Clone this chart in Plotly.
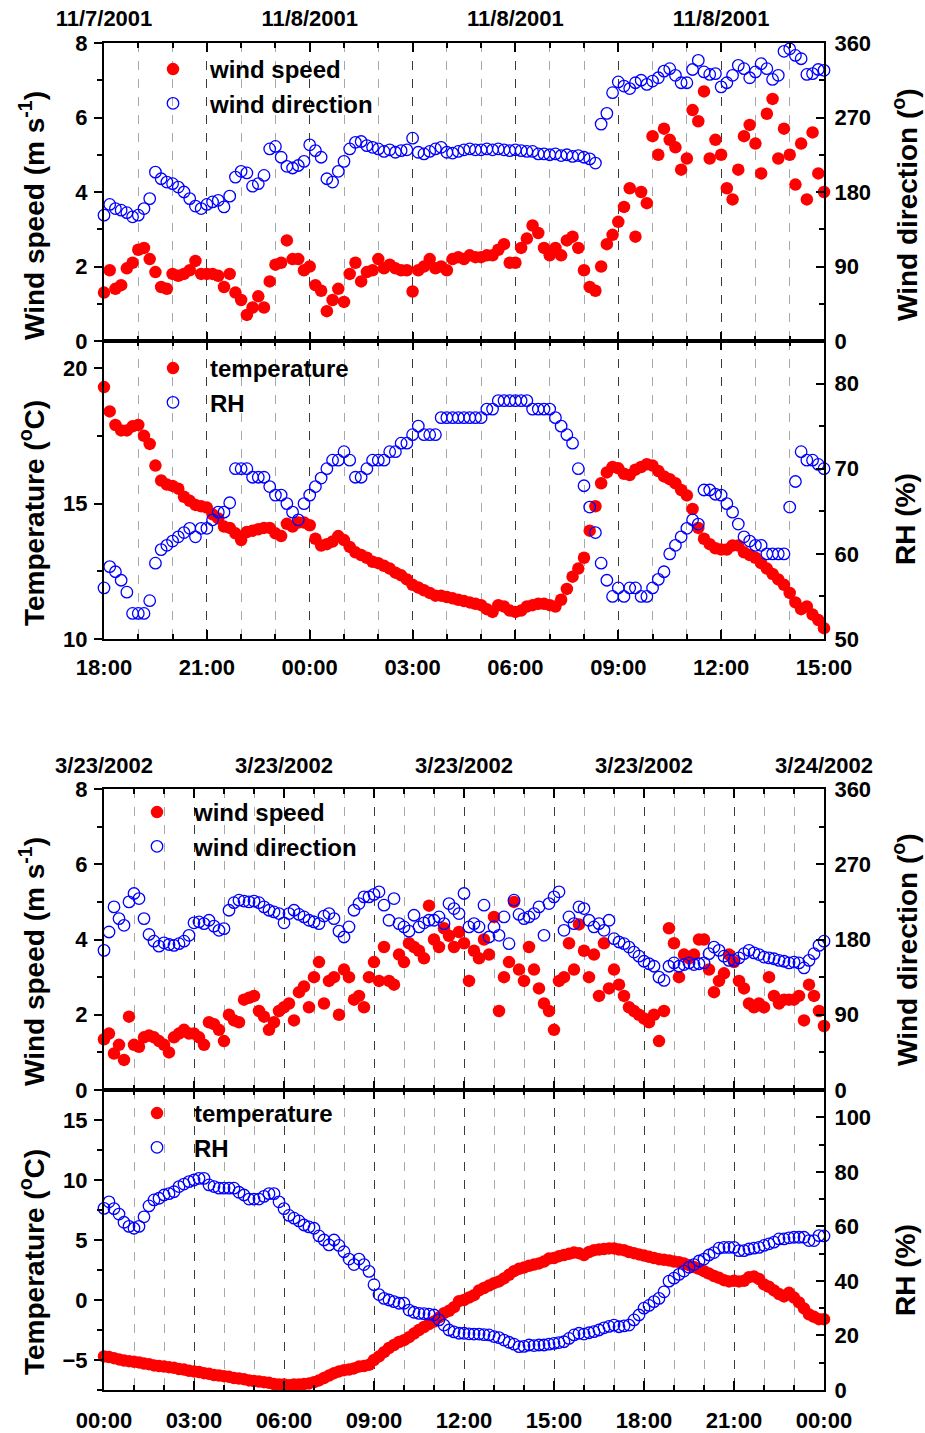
import numpy as np
import plotly.graph_objects as go

# ---------------------------------------------------------------
# 7-8 Nov 2001, 10-minute samples from 18:00 to 15:00 (one row per hour)
# ---------------------------------------------------------------
nov_wind_speed = [
    1.3, 1.9, 1.4, 1.5, 1.95, 2.1,     # 18
    2.45, 2.5, 2.2, 1.85, 1.45, 1.4,   # 19
    1.8, 1.75, 1.8, 1.9, 2.15, 1.8,    # 20
    1.8, 1.8, 1.75, 1.45, 1.8, 1.3,    # 21
    1.1, 0.7, 0.9, 1.2, 0.9, 1.6,      # 22
    2.05, 2.1, 2.7, 2.2, 2.2, 1.9,     # 23
    2.0, 1.5, 1.35, 0.8, 1.1, 1.4,     # 00
    1.05, 1.8, 2.1, 1.6, 1.85, 1.9,    # 01
    2.2, 1.95, 2.05, 1.95, 1.9, 1.9,   # 02
    1.33, 1.9, 2.0, 2.2, 1.95, 2.0,    # 03
    1.9, 2.2, 2.25, 2.2, 2.3, 2.25,    # 04
    2.25, 2.3, 2.3, 2.45, 2.6, 2.1,    # 05
    2.1, 2.5, 2.75, 3.1, 2.9, 2.5,     # 06
    2.3, 2.5, 2.3, 2.7, 2.8, 2.5,      # 07
    1.9, 1.45, 1.35, 2.0, 2.6, 2.85,   # 08
    3.2, 3.6, 4.1, 2.8, 4.0, 3.7,      # 09
    5.5, 5.0, 5.7, 5.4, 5.2, 4.6,      # 10
    4.9, 6.2, 5.9, 6.7, 4.9, 5.4,      # 11
    5.0, 4.1, 3.8, 4.6, 5.5, 5.8,      # 12
    5.3, 4.5, 6.1, 6.5, 4.9, 5.7,      # 13
    5.0, 4.2, 5.3, 3.8, 5.6, 4.5,      # 14
    4.0,                               # 15
]
nov_wind_dir = [
    152, 165, 160, 158, 155, 150,
    152, 160, 172, 204, 196, 192,
    190, 186, 180, 172, 163, 160,
    165, 168, 170, 162, 175, 198,
    205, 203, 187, 190, 200, 232,
    235, 222, 211, 209, 212, 217,
    237, 230, 222, 196, 192, 205,
    217, 232, 240, 241, 236, 234,
    232, 229, 231, 228, 230, 231,
    245, 228, 226, 229, 232, 234,
    228, 227, 229, 231, 232, 231,
    231, 232, 231, 232, 231, 230,
    231, 230, 229, 229, 226, 226,
    225, 226, 224, 225, 223, 224,
    222, 220, 215, 262, 275, 300,
    313, 308, 305, 312, 315, 310,
    314, 318, 326, 329, 321, 312,
    312, 328, 339, 325, 322, 323,
    307, 312, 321, 333, 329, 318,
    325, 335, 329, 316, 321, 350,
    353, 345, 341, 322, 323, 328,
    327,
]
nov_temperature = [
    19.3, 18.4, 17.9, 17.7, 17.7, 17.85,
    17.9, 17.5, 17.2, 16.4, 15.85, 15.7,
    15.65, 15.55, 15.25, 15.1, 14.95, 14.9,
    14.85, 14.6, 14.45, 14.15, 14.1, 13.9,
    13.65, 13.95, 14.0, 14.05, 14.1, 14.1,
    13.9, 13.8, 14.25, 14.15, 14.3, 14.3,
    14.2, 13.7, 13.45, 13.5, 13.6, 13.8,
    13.65, 13.4, 13.2, 13.1, 13.0, 12.85,
    12.8, 12.7, 12.6, 12.45, 12.35, 12.2,
    12.0, 11.9, 11.8, 11.7, 11.6, 11.6,
    11.55, 11.5, 11.45, 11.4, 11.35, 11.3,
    11.25, 11.1, 11.0, 11.25, 11.2, 11.05,
    11.0, 11.05, 11.2, 11.25, 11.3, 11.3,
    11.25, 11.2, 11.45, 11.85, 12.3, 12.6,
    13.0, 14.0, 14.9, 15.75, 16.15, 16.35,
    16.3, 16.1, 16.05, 16.25, 16.35, 16.45,
    16.4, 16.2, 16.0, 15.9, 15.75, 15.5,
    15.3, 14.8, 14.1, 13.7, 13.5, 13.35,
    13.3, 13.3, 13.45, 13.45, 13.2, 13.1,
    13.0, 12.8, 12.6, 12.4, 12.2, 12.0,
    11.7, 11.35, 11.1, 11.2, 10.9, 10.7,
    10.4,
]
nov_rh = [
    56.0, 58.5, 57.9, 56.9, 55.5, 53.0,
    53.0, 53.0, 54.5, 58.9, 60.5, 61.0,
    61.5, 62.0, 62.5, 63.0, 62.0, 63.0,
    63.0, 64.0, 64.9, 64.9, 66.0, 70.0,
    70.0, 70.0, 69.0, 69.0, 69.0, 67.9,
    66.9, 66.9, 65.9, 64.9, 64.0, 65.9,
    66.9, 67.9, 68.9, 70.0, 71.0, 71.0,
    72.0, 71.0, 69.0, 69.0, 70.0, 71.0,
    71.0, 71.0, 72.0, 72.0, 73.0, 73.0,
    74.0, 75.0, 74.0, 74.0, 74.0, 76.0,
    76.0, 76.0, 76.0, 76.0, 76.0, 76.0,
    76.0, 77.0, 77.0, 78.0, 78.0, 78.0,
    78.0, 78.0, 78.0, 77.0, 77.0, 77.0,
    77.0, 76.0, 75.0, 74.0, 73.0, 70.0,
    68.0, 65.5, 62.5, 58.9, 56.9, 55.0,
    56.0, 55.0, 56.0, 56.0, 55.0, 55.0,
    56.0, 57.0, 57.9, 60.0, 61.0, 62.0,
    63.0, 64.0, 63.5, 67.5, 67.5, 67.0,
    66.9, 65.9, 64.9, 63.5, 62.0, 61.5,
    61.0, 61.0, 60.0, 60.0, 60.0, 60.0,
    65.5, 68.5, 72.0, 71.0, 71.0, 70.5,
    70.0,
]

# ---------------------------------------------------------------
# 23 Mar 2002, 10-minute samples from 00:00 to 24:00 (one row per hour)
# ---------------------------------------------------------------
mar_wind_speed = [
    1.35, 1.5, 0.97, 1.2, 0.8, 1.95,   # 00
    1.2, 1.15, 1.4, 1.45, 1.4, 1.3,    # 01
    1.2, 1.0, 1.4, 1.5, 1.6, 1.5,      # 02
    1.5, 1.4, 1.2, 1.8, 1.75, 1.6,     # 03
    1.3, 2.0, 1.85, 1.8, 2.4, 2.45,    # 04
    2.5, 2.1, 1.95, 1.6, 1.8, 2.1,     # 05
    2.2, 2.3, 1.85, 2.6, 2.75, 2.2,    # 06
    3.0, 3.4, 2.3, 2.9, 3.0, 2.0,      # 07
    3.2, 3.0, 2.4, 2.5, 2.2, 3.0,      # 08
    3.4, 2.9, 3.8, 2.9, 2.8, 3.6,      # 09
    3.4, 3.9, 3.8, 3.7, 3.5, 4.9,      # 10
    4.0, 3.8, 4.3, 4.1, 3.8, 4.2,      # 11
    3.9, 2.9, 3.7, 3.5, 4.0, 3.6,      # 12
    4.6, 2.1, 3.0, 3.4, 5.0, 3.2,      # 13
    2.9, 3.8, 3.2, 2.7, 2.3, 2.1,      # 14
    1.6, 2.9, 3.0, 3.9, 3.2, 4.4,      # 15
    3.7, 3.0, 3.6, 2.5, 3.9, 2.7,      # 16
    3.2, 2.8, 2.5, 2.2, 2.1, 2.0,      # 17
    1.9, 1.8, 2.0, 1.3, 2.1, 4.3,      # 18
    3.9, 3.0, 3.6, 3.5, 3.6, 4.0,      # 19
    4.0, 3.2, 2.6, 2.9, 3.1, 3.6,      # 20
    3.4, 2.9, 2.7, 2.3, 2.2, 2.3,      # 21
    2.2, 3.0, 2.5, 2.3, 2.4, 2.4,      # 22
    2.4, 2.5, 1.85, 2.8, 2.5, 2.1,     # 23
    1.7,                               # 24
]
mar_wind_dir = [
    167, 189, 219, 205, 197, 225,
    235, 229, 205, 186, 178, 172,
    176, 174, 173, 175, 178, 185,
    200, 201, 199, 203, 196, 191,
    193, 215, 224, 227, 226, 225,
    226, 224, 219, 215, 213, 211,
    200, 211, 215, 210, 207, 203,
    201, 199, 208, 211, 205, 190,
    183, 195, 215, 223, 231, 231,
    234, 237, 221, 203, 229, 199,
    195, 190, 209, 195, 200, 203,
    203, 207, 199, 223, 217, 211,
    235, 195, 199, 195, 221, 183,
    195, 185, 207, 175, 227, 210,
    205, 207, 211, 219, 185, 223,
    231, 237, 191, 207, 199, 219,
    217, 203, 195, 199, 191, 203,
    181, 177, 175, 171, 165, 160,
    154, 151, 148, 135, 131, 148,
    152, 148, 150, 152, 150, 151,
    152, 163, 171, 167, 160, 155,
    155, 158, 163, 167, 164, 162,
    159, 158, 157, 155, 154, 152,
    153, 152, 146, 155, 163, 173,
    178,
]
mar_temperature = [
    -4.7, -4.75, -4.85, -4.95, -5.05, -5.1,
    -5.15, -5.2, -5.3, -5.35, -5.45, -5.5,
    -5.55, -5.6, -5.65, -5.75, -5.8, -5.9,
    -5.95, -6.0, -6.1, -6.15, -6.25, -6.3,
    -6.35, -6.4, -6.5, -6.55, -6.6, -6.7,
    -6.75, -6.8, -6.85, -6.9, -7.0, -7.05,
    -7.05, -7.1, -7.05, -7.05, -7.0, -6.95,
    -6.85, -6.7, -6.5, -6.3, -6.1, -5.95,
    -5.85, -5.8, -5.7, -5.55, -5.5, -5.4,
    -5.0, -4.7, -4.35, -4.0, -3.75, -3.5,
    -3.35, -3.1, -2.8, -2.5, -2.25, -2.0,
    -1.8, -1.45, -1.1, -0.9, -0.6, -0.1,
    0.0, 0.2, 0.4, 0.8, 1.0, 1.2,
    1.4, 1.55, 1.8, 2.1, 2.4, 2.6,
    2.7, 2.85, 2.95, 3.05, 3.2, 3.45,
    3.5, 3.65, 3.75, 3.85, 3.95, 3.9,
    3.75, 4.0, 4.15, 4.2, 4.25, 4.3,
    4.3, 4.2, 4.15, 4.0, 3.9, 3.8,
    3.7, 3.6, 3.5, 3.4, 3.35, 3.3,
    3.2, 3.15, 3.05, 2.9, 2.75, 2.6,
    2.4, 2.2, 2.0, 1.85, 1.65, 1.55,
    1.6, 1.55, 1.6, 1.9, 1.95, 1.75,
    1.3, 1.1, 0.8, 0.5, 0.3, 0.6,
    0.2, -0.2, -0.7, -1.2, -1.4, -1.6,
    -1.6,
]
mar_rh = [
    66.6, 69.0, 66.5, 64.5, 61.5, 60.0,
    59.3, 60.0, 63.5, 67.5, 69.7, 70.3,
    71.5, 72.0, 72.7, 74.6, 75.5, 76.4,
    77.0, 77.6, 77.6, 75.2, 74.6, 74.0,
    74.0, 74.0, 74.0, 72.5, 71.5, 70.0,
    70.0, 70.0, 71.0, 72.0, 72.0, 69.0,
    66.5, 64.0, 63.0, 62.0, 60.5, 59.8,
    59.3, 56.5, 55.0, 53.2, 55.0, 53.0,
    50.7, 48.0, 46.0, 48.0, 46.0, 43.5,
    38.6, 35.0, 33.6, 33.0, 32.4, 31.8,
    31.8, 29.3, 28.5, 28.1, 28.0, 27.8,
    27.5, 25.7, 23.8, 22.0, 21.3, 20.8,
    20.8, 20.6, 20.5, 20.5, 20.3, 20.2,
    19.6, 19.2, 18.3, 17.5, 16.8, 15.9,
    16.0, 16.5, 16.3, 16.5, 16.5, 16.8,
    17.1, 17.4, 17.7, 18.9, 20.2, 20.8,
    20.5, 21.0, 21.4, 22.0, 22.8, 23.3,
    23.8, 23.2, 23.5, 23.8, 25.7, 27.5,
    30.0, 31.0, 32.4, 33.6, 36.0, 39.9,
    41.0, 42.4, 43.6, 45.0, 46.0, 47.3,
    48.0, 49.5, 50.4, 52.0, 52.3, 52.3,
    52.3, 51.1, 51.1, 51.7, 52.0, 52.3,
    53.0, 53.6, 54.2, 55.4, 55.4, 55.8,
    56.0, 56.0, 56.0, 54.8, 54.8, 56.6,
    56.5,
]

# axis labels
nov_time_labels = ["18:00", "21:00", "00:00", "03:00", "06:00", "09:00", "12:00", "15:00"]
nov_date_labels = ["11/7/2001", "", "11/8/2001", "", "11/8/2001", "", "11/8/2001", ""]
mar_time_labels = ["00:00", "03:00", "06:00", "09:00", "12:00", "15:00", "18:00", "21:00", "00:00"]
mar_date_labels = ["3/23/2002", "", "3/23/2002", "", "3/23/2002", "", "3/23/2002", "", "3/24/2002"]

# sample times in hours since the start of each record (10-minute step)
nov_hours = np.arange(len(nov_wind_speed)) / 6.0
mar_hours = np.arange(len(mar_wind_speed)) / 6.0

# ---------------------------------------------------------------
# page geometry (pixels)
# ---------------------------------------------------------------
W, H = 925, 1433
ML, MR, MT, MB = 104, 101, 43, 43
PW = W - ML - MR
PH = H - MT - MB


def fy(y):
    return (H - MB - y) / PH


def fx(x):
    return (x - ML) / PW


FONT = "Liberation Sans, Arial, Helvetica, sans-serif"
RED = "#ff0000"
BLUE = "#0000ff"
TICKFONT = dict(family=FONT, size=22, color="black", weight="bold")

fig = go.Figure()


def add_pair(x, y1, y2, name1, name2, xa, ya1, ya2, legend):
    fig.add_trace(go.Scatter(
        x=x, y=y1, name=name1, mode="markers", xaxis=xa, yaxis=ya1,
        marker=dict(symbol="circle", size=12.5, color=RED, line=dict(width=0)),
        cliponaxis=False, legend=legend))
    fig.add_trace(go.Scatter(
        x=x, y=y2, name=name2, mode="markers", xaxis=xa, yaxis=ya2,
        marker=dict(symbol="circle-open", size=11.5, color=BLUE, line=dict(width=1.3, color=BLUE)),
        cliponaxis=False, legend=legend))


add_pair(nov_hours, nov_wind_speed, nov_wind_dir, "wind speed", "wind direction", "x", "y", "y2", "legend")
add_pair(nov_hours, nov_temperature, nov_rh, "temperature", "RH", "x2", "y3", "y4", "legend2")
add_pair(mar_hours, mar_wind_speed, mar_wind_dir, "wind speed", "wind direction", "x3", "y5", "y6", "legend3")
add_pair(mar_hours, mar_temperature, mar_rh, "temperature", "RH", "x4", "y7", "y8", "legend4")


def time_axis(anchor, span, labels, side, standoff):
    return dict(
        domain=[0, 1], anchor=anchor, range=[0, span], side=side, automargin=False,
        tickmode="array", tickvals=list(range(0, span + 1, 3)), ticktext=labels,
        ticks="inside", ticklen=9, tickwidth=2, tickcolor="black",
        showline=True, linecolor="black", linewidth=2, mirror="ticks",
        showgrid=True, gridcolor="#3a3a3a", griddash="dash", gridwidth=1,
        zeroline=False, tickfont=TICKFONT, ticklabelstandoff=standoff,
        minor=dict(tickmode="linear", tick0=0, dtick=1, ticks="inside", ticklen=5,
                   tickwidth=1.5, tickcolor="black", showgrid=True,
                   gridcolor="#a8a8a8", griddash="dash", gridwidth=1),
    )


def left_axis(domain, anchor, rng, dtick, minor):
    return dict(
        domain=domain, anchor=anchor, range=rng, tick0=0, dtick=dtick, automargin=False,
        ticks="outside", ticklen=8, tickwidth=2, tickcolor="black",
        showline=True, linecolor="black", linewidth=2,
        showgrid=False, zeroline=False, tickfont=TICKFONT, ticklabelstandoff=2,
        minor=dict(tick0=0, dtick=minor, ticks="outside", ticklen=5, tickwidth=1.5,
                   tickcolor="black", showgrid=False),
    )


def right_axis(over, anchor, rng, dtick, minor):
    return dict(
        overlaying=over, anchor=anchor, side="right", range=rng, tick0=0, dtick=dtick,
        automargin=False,
        ticks="inside", ticklen=8, tickwidth=2, tickcolor="black",
        showline=True, linecolor="black", linewidth=2,
        showgrid=False, zeroline=False, tickfont=TICKFONT, ticklabelstandoff=4,
        minor=dict(tick0=0, dtick=minor, ticks="inside", ticklen=5, tickwidth=1.5,
                   tickcolor="black", showgrid=False),
    )


dom_a = [fy(341), 1.0]
dom_b = [fy(639), fy(341)]
dom_c = [fy(1090), fy(789)]
dom_d = [0.0, fy(1090)]

legend_font = dict(family=FONT, size=24, color="black", weight="bold")


def legend_at(x_px, y_px):
    return dict(x=fx(x_px), y=fy(y_px), xanchor="left", yanchor="top",
                bgcolor="rgba(0,0,0,0)", borderwidth=0, font=legend_font,
                itemwidth=64, tracegroupgap=0, itemclick=False)


fig.update_layout(
    width=W, height=H,
    margin=dict(l=ML, r=MR, t=MT, b=MB, pad=0, autoexpand=False),
    paper_bgcolor="white", plot_bgcolor="white",
    font=dict(family=FONT, color="black"),
    showlegend=True,
    xaxis=time_axis("y", 21, nov_date_labels, "top", 6),
    xaxis2=time_axis("y3", 21, nov_time_labels, "bottom", 8),
    xaxis3=time_axis("y5", 24, mar_date_labels, "top", 5),
    xaxis4=time_axis("y7", 24, mar_time_labels, "bottom", 10),
    yaxis=left_axis(dom_a, "x", [0, 8], 2, 1),
    yaxis2=right_axis("y", "x", [0, 360], 90, 45),
    yaxis3=left_axis(dom_b, "x2", [10, 21], 5, 2.5),
    yaxis4=right_axis("y3", "x2", [50, 85], 10, 5),
    yaxis5=left_axis(dom_c, "x3", [0, 8], 2, 1),
    yaxis6=right_axis("y5", "x3", [0, 360], 90, 45),
    yaxis7=left_axis(dom_d, "x4", [-7.5, 17.5], 5, 2.5),
    yaxis8=right_axis("y7", "x4", [0, 110], 20, 10),
    legend=legend_at(136, 47),
    legend2=legend_at(136, 346),
    legend3=legend_at(120, 790),
    legend4=legend_at(120, 1091),
)

# rotated axis titles
title_font = dict(family=FONT, size=28, color="black", weight="bold")
titles = [
    ("Wind speed (m s<sup>-1</sup>)", 32, 216),
    ("Wind direction (<sup>o</sup>)", 905, 205),
    ("Temperature (<sup>o</sup>C)", 32, 513),
    ("RH (%)", 905, 519),
    ("Wind speed (m s<sup>-1</sup>)", 32, 962),
    ("Wind direction (<sup>o</sup>)", 905, 950),
    ("Temperature (<sup>o</sup>C)", 32, 1262),
    ("RH (%)", 905, 1270),
]
for text, xp, yp in titles:
    fig.add_annotation(text=text, x=fx(xp), y=fy(yp), xref="paper", yref="paper",
                       xanchor="center", yanchor="middle", textangle=-90,
                       showarrow=False, font=title_font)

fig.write_html("out.html")
